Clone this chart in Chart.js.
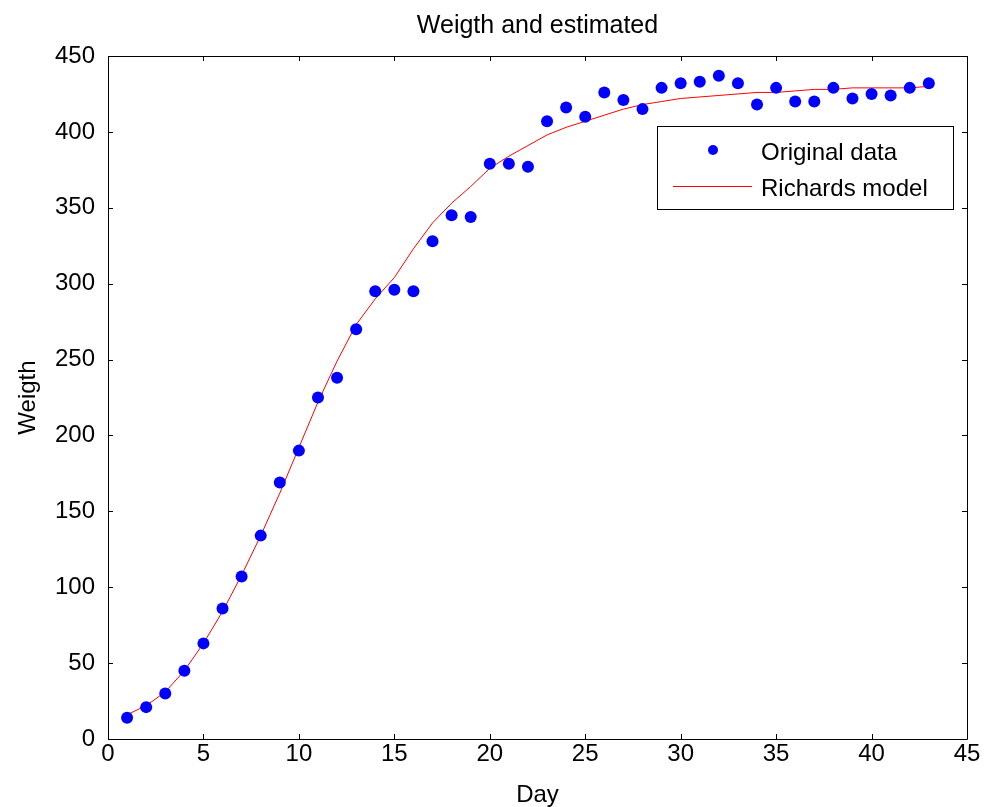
<!DOCTYPE html>
<html>
<head>
<meta charset="utf-8">
<script src="https://cdn.jsdelivr.net/npm/chart.js@4"></script>
<style>
  html, body { margin: 0; padding: 0; background: #fff; }
  #wrap { width: 988px; height: 807px; }
</style>
</head>
<body>
<div id="wrap"><canvas id="growthChart" width="988" height="807"></canvas></div>
<script>
const days = [1, 2, 3, 4, 5, 6, 7, 8, 9, 10, 11, 12, 13, 14, 15, 16, 17, 18, 19, 20, 21,
   22, 23, 24, 25, 26, 27, 28, 29, 30, 31, 32, 33, 34, 35, 36, 37, 38, 39, 40, 41, 42, 43];
const observed = [14, 21, 30, 45, 63, 86, 107, 134, 169, 190, 225, 238, 270, 295, 296, 295, 328, 345, 344, 379, 379,
   377, 407, 416, 410, 426, 421, 415, 429, 432, 433, 437, 432, 418, 429, 420, 420, 429, 422, 425, 424, 429, 432];
const model = [16, 22, 31, 45, 63, 84, 108, 134, 162, 192, 222, 249, 273, 290, 304, 323, 340, 353, 364, 376, 384,
   391, 398, 403, 407, 411, 415, 418, 420, 422, 423, 424, 425, 426, 426, 427, 428, 428, 429, 429, 429, 429, 430];
const xTicks = [0, 5, 10, 15, 20, 25, 30, 35, 40, 45];
const yTicks = [0, 50, 100, 150, 200, 250, 300, 350, 400, 450];
const seriesNames = ['Original data', 'Richards model'];

const FONT = 'Arial, "Liberation Sans", sans-serif';

// frame, inward ticks, title and legend in MATLAB style
const matlabFrame = {
   id: 'matlabFrame',
   afterDraw: function (chart) {
      const c = chart.ctx;
      const a = chart.chartArea;
      const xs = chart.scales.x;
      const ys = chart.scales.y;
      c.save();
      c.strokeStyle = '#000';
      c.lineWidth = 1;
      c.beginPath();
      c.rect(a.left + 0.5, a.top + 0.5, a.right - a.left, a.bottom - a.top);
      const tl = 5;
      xTicks.forEach(function (v) {
         const px = Math.round(xs.getPixelForValue(v)) + 0.5;
         c.moveTo(px, a.bottom); c.lineTo(px, a.bottom - tl);
         c.moveTo(px, a.top); c.lineTo(px, a.top + tl);
      });
      yTicks.forEach(function (v) {
         const py = Math.round(ys.getPixelForValue(v)) + 0.5;
         c.moveTo(a.left, py); c.lineTo(a.left + tl, py);
         c.moveTo(a.right, py); c.lineTo(a.right - tl, py);
      });
      c.stroke();

      // title
      c.fillStyle = '#000';
      c.font = '25px ' + FONT;
      c.textAlign = 'center';
      c.textBaseline = 'middle';
      c.fillText('Weigth and estimated', (a.left + a.right) / 2, 26);

      // legend
      const lx = a.right - 310, ly = a.top + 70, lw = 296, lh = 83;
      c.fillStyle = '#fff';
      c.fillRect(lx, ly, lw, lh);
      c.strokeStyle = '#000';
      c.strokeRect(lx + 0.5, ly + 0.5, lw, lh);
      c.fillStyle = '#0000ff';
      c.beginPath();
      c.arc(lx + 56, ly + 24, 5, 0, Math.PI * 2);
      c.fill();
      c.strokeStyle = '#ff0000';
      c.beginPath();
      c.moveTo(lx + 16, ly + 60.5); c.lineTo(lx + 95, ly + 60.5);
      c.stroke();
      c.fillStyle = '#000';
      c.font = '24px ' + FONT;
      c.textAlign = 'left';
      c.fillText(seriesNames[0], lx + 104, ly + 27);
      c.fillText(seriesNames[1], lx + 104, ly + 63);
      c.restore();
   }
};

const ctx = document.getElementById('growthChart');
new Chart(ctx, {
   type: 'scatter',
   data: {
      datasets: [
         {
            label: seriesNames[0],
            data: days.map(function (d, i) { return { x: d, y: observed[i] }; }),
            showLine: false,
            pointRadius: 6,
            pointHoverRadius: 6,
            pointBackgroundColor: '#0000ff',
            pointBorderColor: '#0000ff',
            pointBorderWidth: 0
         },
         {
            label: seriesNames[1],
            data: days.map(function (d, i) { return { x: d, y: model[i] }; }),
            showLine: true,
            borderColor: '#ff0000',
            borderWidth: 1,
            pointRadius: 0,
            tension: 0
         }
      ]
   },
   options: {
      responsive: false,
      animation: false,
      layout: { padding: { left: 0, top: 56, right: 21, bottom: 0 } },
      plugins: {
         legend: { display: false },
         title: { display: false },
         tooltip: { enabled: false }
      },
      scales: {
         x: {
            type: 'linear',
            min: 0,
            max: 45,
            afterBuildTicks: function (s) { s.ticks = xTicks.map(function (v) { return { value: v }; }); },
            afterFit: function (s) { s.height = 68; },
            grid: { display: false, drawTicks: false },
            border: { display: false },
            ticks: { color: '#000', font: { family: FONT, size: 24 }, padding: 1, maxRotation: 0 },
            title: { display: true, text: 'Day', color: '#000', font: { family: FONT, size: 24 }, padding: { top: 0, bottom: -3 } }
         },
         y: {
            type: 'linear',
            min: 0,
            max: 450,
            afterBuildTicks: function (s) { s.ticks = yTicks.map(function (v) { return { value: v }; }); },
            afterFit: function (s) { s.width = 108; },
            grid: { display: false, drawTicks: false },
            border: { display: false },
            ticks: { color: '#000', font: { family: FONT, size: 24 }, padding: 13 },
            title: { display: true, text: 'Weigth', color: '#000', font: { family: FONT, size: 24 }, padding: { top: 14, bottom: 0 } }
         }
      }
   },
   plugins: [matlabFrame]
});
</script>
</body>
</html>
